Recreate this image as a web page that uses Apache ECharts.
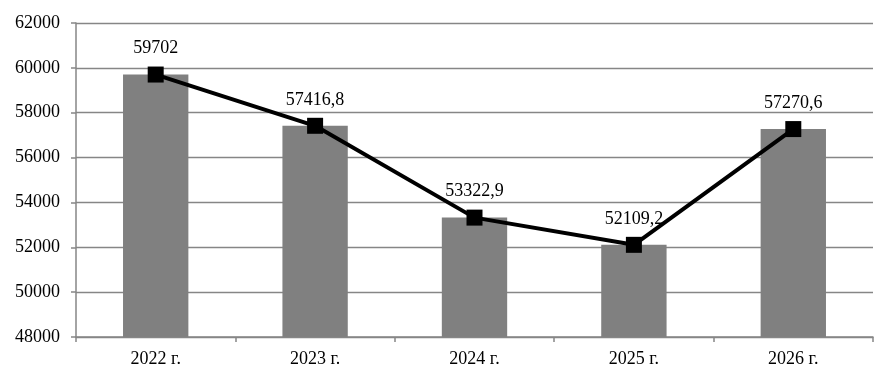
<!DOCTYPE html>
<html><head><meta charset="utf-8">
<script src="https://cdn.jsdelivr.net/npm/echarts@6/dist/echarts.min.js"></script>
<style>html,body{margin:0;padding:0;background:#fff}#c{width:896px;height:383px}</style>
</head><body><div id="c"></div>
<script>
const categories = ['2022 г.', '2023 г.', '2024 г.', '2025 г.', '2026 г.'];
const barValues = [59702, 57416.8, 53322.9, 52109.2, 57270.6];
const lineValues = [59702, 57416.8, 53322.9, 52109.2, 57270.6];
const yMin = 48000, yMax = 62000, yStep = 2000;

const font = 'Liberation Serif, Times New Roman, serif';
const grey = '#868686';
const chart = echarts.init(document.getElementById('c'), null, {renderer: 'canvas'});
chart.setOption({
  animation: false,
  grid: {left: 76, right: 23, top: 23, bottom: 46},
  xAxis: {
    type: 'category', data: categories,
    axisLine: {lineStyle: {color: grey, width: 1.5}},
    axisTick: {show: true, length: 5, lineStyle: {color: grey, width: 1.5}},
    axisLabel: {color: '#000', fontFamily: font, fontSize: 18, margin: 13}
  },
  yAxis: {
    type: 'value', min: yMin, max: yMax, interval: yStep,
    axisLine: {show: true, lineStyle: {color: grey, width: 1.5}},
    axisTick: {show: true, length: 5, lineStyle: {color: grey, width: 1.5}},
    splitLine: {lineStyle: {color: grey, width: 1.3}},
    axisLabel: {color: '#000', fontFamily: font, fontSize: 18, margin: 16, formatter: v => String(v)}
  },
  series: [
    {type: 'bar', data: barValues, barWidth: '41%', itemStyle: {color: '#808080'}, z: 2},
    {type: 'line', data: lineValues, symbol: 'rect', symbolSize: 16,
     lineStyle: {color: '#000', width: 4}, itemStyle: {color: '#000'}, z: 3,
     label: {show: true, position: 'top', distance: 9, color: '#000', fontFamily: font, fontSize: 18,
       formatter: p => String(p.value).replace('.', ',')}}
  ]
});
</script></body></html>
